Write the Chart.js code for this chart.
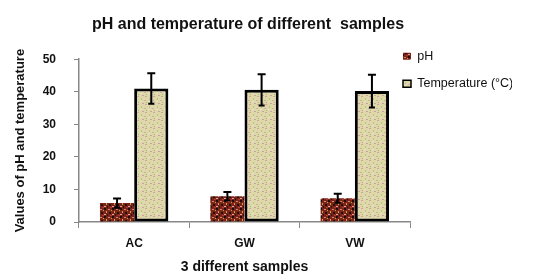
<!DOCTYPE html>
<html>
<head>
    <title>pH and temperature</title>
    <script src="https://cdn.jsdelivr.net/npm/chart.js"></script>
    <style>
        body { margin: 0; background: #fff; }
        #wrap { width: 534px; height: 278px; }
    </style>
</head>
<body>
    <div id="wrap"><canvas id="sampleChart" width="534" height="278"></canvas></div>

    <script>
        const samples = ['AC', 'GW', 'VW'];
        const phValues = [5.8, 7.9, 7.3];
        const phErrors = [1.4, 1.3, 1.4];
        const tempValues = [41.0, 40.6, 40.2];
        const tempErrors = [4.7, 4.8, 5.0];

        // small fixed textures, like the speckled fills in the original
        function makePattern(base, specks) {
            const c = document.createElement('canvas');
            c.width = 8; c.height = 8;
            const g = c.getContext('2d');
            g.fillStyle = base;
            g.fillRect(0, 0, 8, 8);
            specks.forEach(s => {
                g.fillStyle = s[4];
                g.fillRect(s[0], s[1], s[2], s[3]);
            });
            return g.createPattern(c, 'repeat');
        }

        const phFill = makePattern('#7c241a', [
            [0, 0, 2, 2, '#1e0c08'], [4, 1, 2, 1, '#d08a70'], [2, 3, 1, 2, '#c9a04a'],
            [5, 4, 2, 2, '#231008'], [0, 6, 2, 1, '#e0a6a0'], [6, 7, 2, 1, '#a83a30'],
            [3, 6, 1, 2, '#301408'], [7, 2, 1, 1, '#c9a04a']
        ]);
        const tempFill = makePattern('#ddd8a8', [
            [1, 0, 2, 1, '#d4a2a4'], [5, 2, 1, 2, '#c7bc8e'], [0, 4, 2, 1, '#d9a9ad'],
            [4, 5, 2, 1, '#e8e4c2'], [6, 7, 2, 1, '#cfa0a8'], [2, 6, 1, 1, '#b8b088']
        ]);

        const errorBars = {
            id: 'errorBars',
            afterDatasetsDraw(chart) {
                const ctx = chart.ctx;
                const y = chart.scales.y;
                const errs = [phErrors, tempErrors];
                ctx.save();
                ctx.strokeStyle = '#000';
                ctx.lineWidth = 2;
                chart.data.datasets.forEach((ds, i) => {
                    chart.getDatasetMeta(i).data.forEach((bar, j) => {
                        const v = ds.data[j];
                        const top = y.getPixelForValue(v + errs[i][j]);
                        const bot = y.getPixelForValue(v - errs[i][j]);
                        ctx.beginPath();
                        ctx.moveTo(bar.x, top);
                        ctx.lineTo(bar.x, bot);
                        ctx.moveTo(bar.x - 4, top);
                        ctx.lineTo(bar.x + 4, top);
                        ctx.moveTo(bar.x - 3, bot);
                        ctx.lineTo(bar.x + 3, bot);
                        ctx.stroke();
                    });
                });
                ctx.restore();
            }
        };

        // fix legend width and move title / legend to where the original has them
        const placeBlocks = {
            id: 'placeBlocks',
            beforeLayout(chart) {
                const lg = chart.legend;
                if (lg && !lg._wrapped) {
                    const fit = lg.fit;
                    lg.fit = function () { fit.call(this); this.width = 124; };
                    lg._wrapped = true;
                }
            },
            afterLayout(chart) {
                chart.titleBlock.left = 0;
                chart.titleBlock.right = 496;
                const lg = chart.legend;
                const dx = 388 - lg.left;
                const dy = 35 - lg.top;
                lg.left += dx; lg.right += dx;
                lg.top += dy; lg.bottom += dy;
            }
        };

        const fam = 'Liberation Sans, Arial, sans-serif';

        new Chart(document.getElementById('sampleChart'), {
            type: 'bar',
            data: {
                labels: samples,
                datasets: [{
                    label: 'pH',
                    data: phValues,
                    backgroundColor: phFill,
                    borderWidth: 0,
                    categoryPercentage: 0.62,
                    barPercentage: 1
                }, {
                    label: 'Temperature (°C)',
                    data: tempValues,
                    backgroundColor: tempFill,
                    borderColor: '#000',
                    borderWidth: 3,
                    borderSkipped: false,
                    categoryPercentage: 0.62,
                    barPercentage: 1
                }]
            },
            options: {
                responsive: false,
                animation: false,
                layout: { padding: { left: 8, right: 0, top: 6, bottom: 2 } },
                plugins: {
                    title: {
                        display: true,
                        text: 'pH and temperature of different  samples',
                        color: '#111',
                        font: { family: fam, weight: 'bold', size: 16 },
                        padding: { top: 9, bottom: 25 }
                    },
                    legend: {
                        position: 'right',
                        align: 'start',
                        labels: {
                            boxWidth: 8,
                            boxHeight: 7,
                            padding: 15,
                            color: '#111',
                            font: { family: fam, size: 12.5 },
                            generateLabels(chart) {
                                const items = Chart.defaults.plugins.legend.labels.generateLabels(chart);
                                items.forEach(it => { it.lineWidth = it.datasetIndex === 1 ? 1.5 : 0; });
                                return items;
                            }
                        }
                    },
                    tooltip: { enabled: false }
                },
                scales: {
                    x: {
                        afterFit(s) { s.height = 54; },
                        grid: { drawOnChartArea: false, tickLength: 6, color: '#888' },
                        border: { color: '#888', width: 1.5 },
                        ticks: { color: '#111', font: { family: fam, weight: 'bold', size: 12 }, padding: 8 },
                        title: {
                            display: true,
                            text: '3 different samples',
                            color: '#111',
                            font: { family: fam, weight: 'bold', size: 14 },
                            padding: 0
                        }
                    },
                    y: {
                        min: 0,
                        max: 50,
                        afterFit(s) { s.width = 71; },
                        grid: { drawOnChartArea: false, tickLength: 5, color: '#888' },
                        border: { color: '#888', width: 1.5 },
                        ticks: { stepSize: 10, color: '#111', font: { family: fam, weight: 'bold', size: 12 }, padding: 18 },
                        title: {
                            display: true,
                            text: 'Values of pH and temperature',
                            color: '#111',
                            font: { family: fam, weight: 'bold', size: 13 },
                            padding: 5
                        }
                    }
                }
            },
            plugins: [errorBars, placeBlocks]
        });
    </script>
</body>
</html>
